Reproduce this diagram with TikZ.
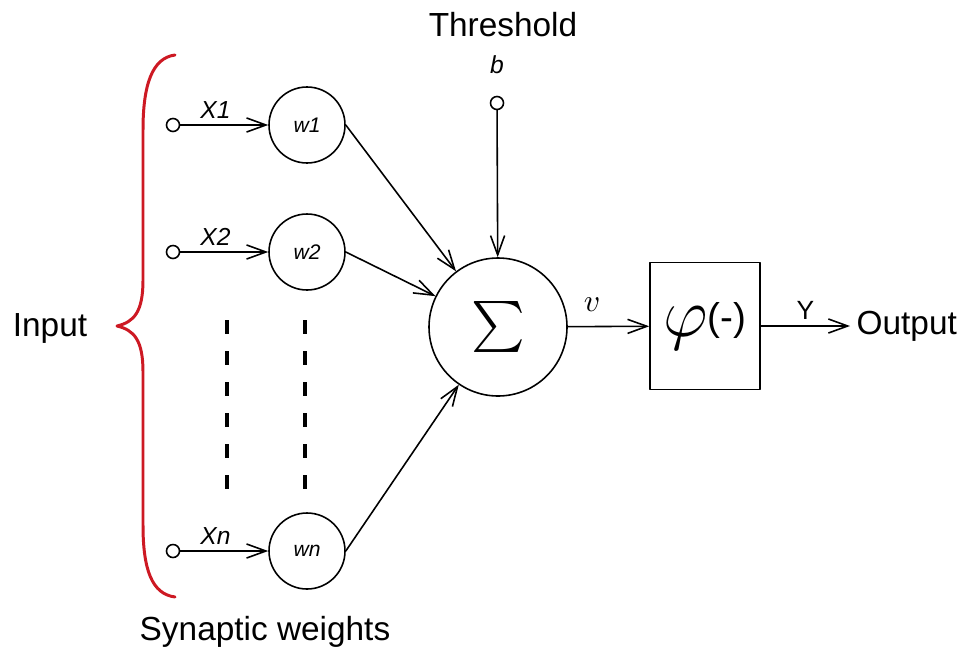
\documentclass[tikz,border=0pt]{standalone}
\usepackage{fontspec}
\setmainfont{Liberation Sans}
\usetikzlibrary{arrows.meta,positioning}
\definecolor{bracered}{RGB}{205,25,35}
\tikzset{
  termnode/.style={circle,draw,minimum size=2.6mm,inner sep=0pt},
  wnode/.style={circle,draw,minimum size=15.2mm,inner sep=0pt,font=\fontsize{12}{14}\selectfont\itshape},
  sumnode/.style={circle,draw,minimum size=27.6mm,inner sep=0pt},
  actnode/.style={rectangle,draw,minimum width=22mm,minimum height=25.4mm,inner sep=0pt,font=\fontsize{22}{26}\selectfont},
  biglabel/.style={font=\fontsize{19}{22}\selectfont},
  varlabel/.style={font=\fontsize{14}{16}\selectfont\itshape},
  every picture/.style={line cap=round,line join=round}
}

\begin{document}
\begin{tikzpicture}[x=0.2mm,y=-0.2mm,line width=0.9pt,>={Straight Barb[length=11pt,width=8pt]}]
  \useasboundingbox (0,0) rectangle (966,653);
  % input brace
  \draw[bracered,line width=1.7pt] (175,55) .. controls (152,58) and (143,85) .. (143,130)
    -- (143,280) .. controls (143,312) and (134,322) .. (117,326)
    .. controls (134,330) and (143,340) .. (143,372)
    -- (143,525) .. controls (143,570) and (152,594) .. (175,597);
  \node[biglabel] (in) at (50,328) {Input};
  % inputs and synaptic weights
  \node[termnode] (x1) at (173,125) {};
  \node[termnode] (x2) at (173,252) {};
  \node[termnode] (xn) at (173,551) {};
  \node[wnode] (w1) at (307,125) {w1};
  \node[wnode] (w2) at (307,252) {w2};
  \node[wnode] (wn) at (307,551) {wn};
  \draw[->] (x1)--node[above,pos=0.4,varlabel] {X1} (w1);
  \draw[->] (x2)--node[above,pos=0.4,varlabel] {X2} (w2);
  \draw[->] (xn)--node[above,pos=0.4,varlabel] {Xn} (wn);
  \foreach \i in {0,...,5} {
    \draw[line width=2.6pt,line cap=butt] (227,320+31*\i) -- ++(0,14);
    \draw[line width=2.6pt,line cap=butt] (305,320+31*\i) -- ++(0,14);
  }
  \node[biglabel] (syn) at (265,632) {Synaptic weights};
  % summing junction
  \node[sumnode] (sum) at (498,327) {\scalebox{2.9}{$\sum$}};
  \node[biglabel] (thr) at (503,25) {Threshold};
  \node[varlabel] (b) at (497,65) {b};
  \node[termnode] (bt) at (497,103) {};
  \draw[->] (bt)--(sum);
  \draw[->] (w1.east)--(sum);
  \draw[->] (w2.east)--(sum);
  \draw[->] (wn.east)--(sum);
  % activation and output
  \node[actnode] (act) at (705,326) {\raisebox{-0.3ex}{\scalebox{1.9}{$\varphi$}}(-)};
  \node[biglabel,anchor=west] (out) at (850,326) {Output};
  \draw[->] (sum)--node[above=5pt,pos=0.3] {\scalebox{1.8}{$v$}} (act);
  \draw[->] (act)--node[above,pos=0.5,font=\fontsize{15}{17}\selectfont] {Y} (out);
\end{tikzpicture}
\end{document}
